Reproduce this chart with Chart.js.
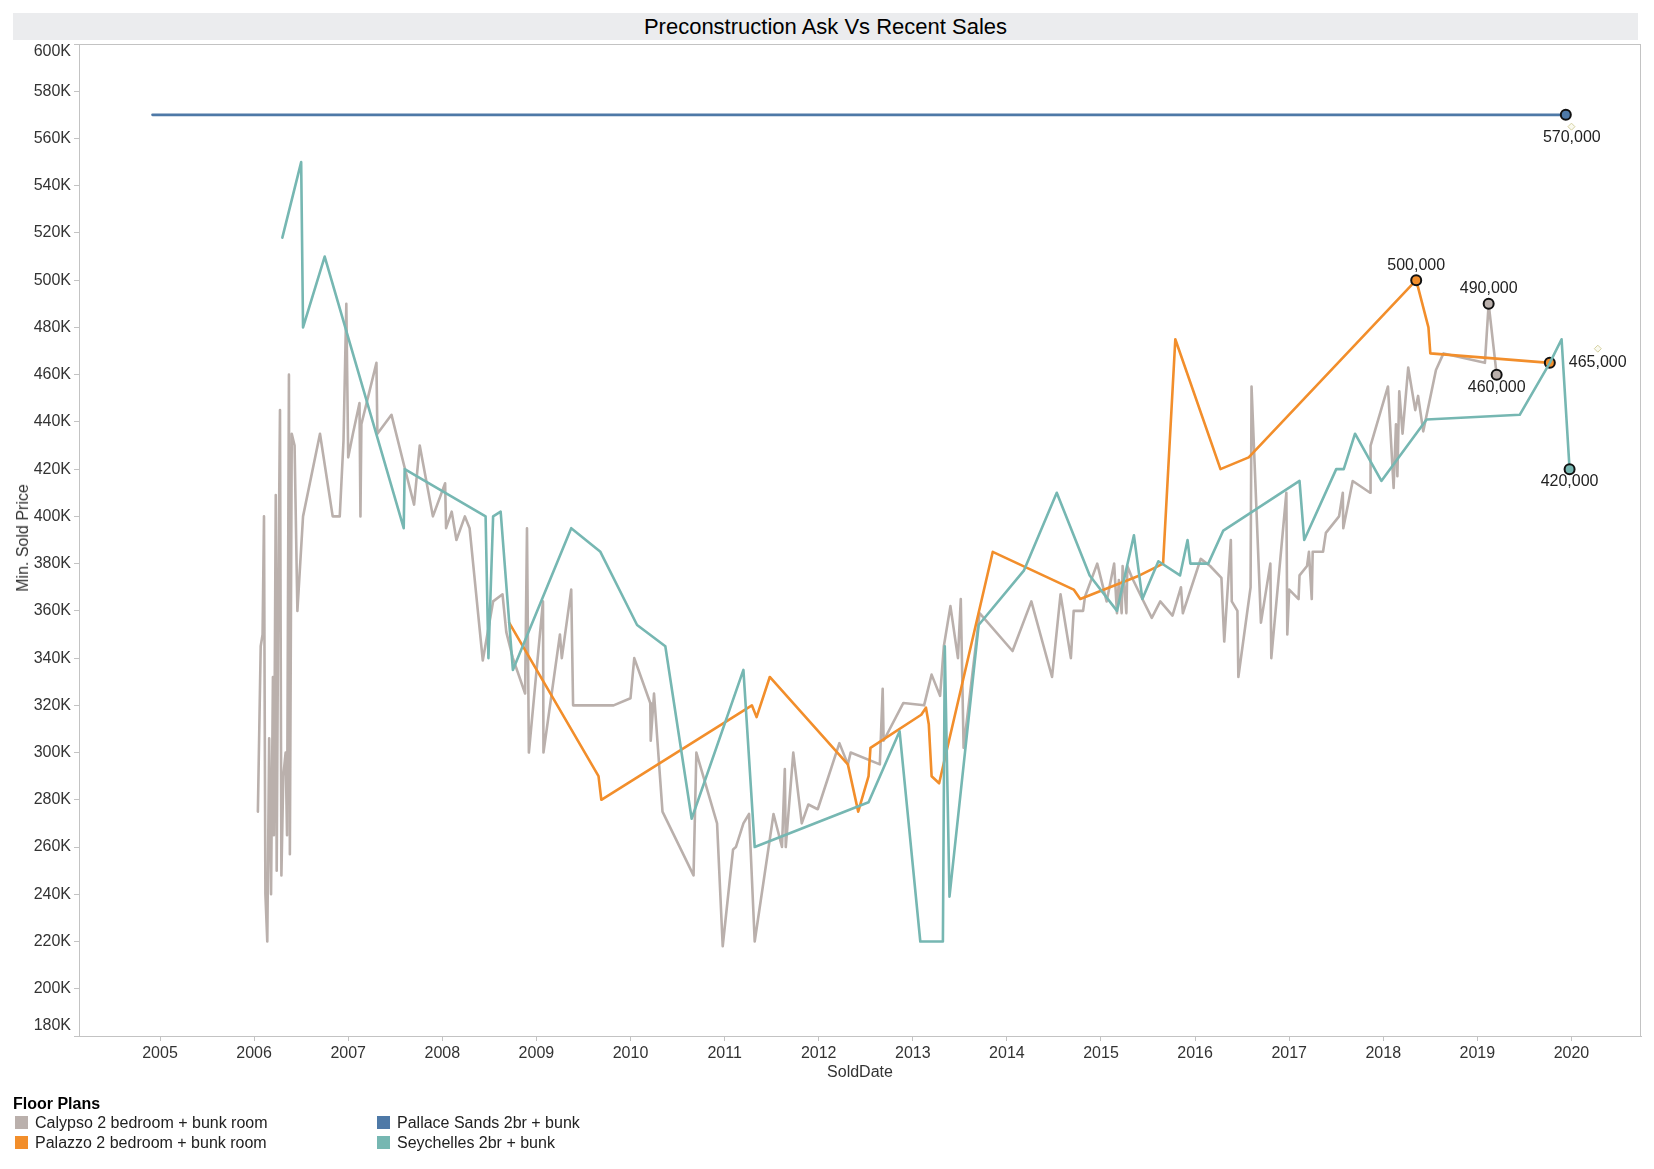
<!DOCTYPE html>
<html>
<head>
<meta charset="utf-8">
<script src="https://cdn.jsdelivr.net/npm/chart.js@4.4.1/dist/chart.umd.min.js"></script>
<style>
html,body{margin:0;padding:0;background:#fff;}
#wrap{position:relative;width:1654px;height:1169px;font-family:"Liberation Sans",Arial,sans-serif;overflow:hidden;}
#c{position:absolute;left:0;top:0;}
#titlebar{position:absolute;left:13px;top:13px;width:1625px;height:27px;background:#ebecee;text-align:center;font-size:22px;line-height:27px;color:#000;}
#ytitle{position:absolute;left:23px;top:538px;transform:translate(-50%,-50%) rotate(-90deg);font-size:16px;white-space:nowrap;color:#333;}
#xtitle{position:absolute;left:860px;top:1072px;transform:translate(-50%,-50%);font-size:16px;white-space:nowrap;color:#333;}
#legend{position:absolute;left:13px;top:1094px;font-size:16px;color:#222;}
#legend .hd{font-weight:bold;color:#000;height:20px;line-height:20px;}
#legend .row{position:absolute;white-space:nowrap;height:20px;line-height:20px;}
#legend .sw{display:inline-block;width:13px;height:13px;vertical-align:-1px;margin-right:7px;margin-left:2px;}
</style>
</head>
<body>
<div id="wrap">
  <canvas id="c" width="1654" height="1169"></canvas>
  <div id="titlebar">Preconstruction Ask Vs Recent Sales</div>
  <div id="ytitle">Min. Sold Price</div>
  <div id="xtitle">SoldDate</div>
  <div id="legend"></div>
</div>
<script>
// ---------------- DATA ----------------
const seriesNames = ["Calypso 2 bedroom + bunk room", "Palazzo 2 bedroom + bunk room", "Pallace Sands 2br + bunk", "Seychelles 2br + bunk"];
const seriesColors = ["#bab0ac", "#f28e2b", "#4e79a7", "#76b7b2"];

const calypsoDates = [2006.04,2006.07,2006.09,2006.105,2006.12,2006.14,2006.16,2006.18,2006.20,2006.21,
  2006.23,2006.24,2006.255,2006.275,2006.29,2006.31,2006.335,2006.35,2006.37,2006.38,
  2006.40,2006.43,2006.46,2006.52,2006.70,2006.835,2006.91,2006.95,2006.98,2007.00,
  2007.05,2007.12,2007.13,2007.14,2007.30,2007.31,2007.46,2007.61,2007.70,2007.76,
  2007.90,2008.03,2008.04,2008.10,2008.15,2008.24,2008.29,2008.43,2008.54,2008.64,
  2008.68,2008.75,2008.88,2008.90,2008.92,2009.07,2009.075,2009.25,2009.27,2009.37,
  2009.39,2009.82,2010.00,2010.04,2010.21,2010.215,2010.25,2010.34,2010.67,2010.70,
  2010.92,2010.98,2011.09,2011.12,2011.20,2011.26,2011.32,2011.52,2011.61,2011.64,
  2011.65,2011.73,2011.82,2011.89,2011.99,2012.22,2012.31,2012.34,2012.65,2012.68,
  2012.69,2012.90,2013.12,2013.20,2013.29,2013.33,2013.40,2013.48,2013.51,2013.54,
  2013.71,2014.06,2014.26,2014.48,2014.57,2014.68,2014.71,2014.81,2014.83,2014.96,
  2015.06,2015.14,2015.17,2015.19,2015.22,2015.23,2015.27,2015.28,2015.33,2015.44,
  2015.54,2015.63,2015.76,2015.85,2015.87,2016.06,2016.16,2016.28,2016.31,2016.38,
  2016.39,2016.45,2016.46,2016.59,2016.60,2016.70,2016.80,2016.81,2016.97,2016.98,
  2017.00,2017.10,2017.11,2017.19,2017.21,2017.24,2017.25,2017.36,2017.39,2017.53,
  2017.57,2017.575,2017.675,2017.86,2017.865,2018.05,2018.11,2018.135,2018.15,2018.17,
  2018.205,2018.265,2018.34,2018.37,2018.425,2018.56,2018.64,2019.08,2019.12,2019.205];
const calypsoPrices = [275000,345000,350000,400000,240000,220000,306000,240000,332000,265000,
  409000,250000,357000,445000,248000,290000,300000,265000,460000,257000,
  435000,430000,360000,400000,435000,400000,400000,432000,490000,425000,
  435000,448000,400000,439000,465000,435000,443000,419000,405000,430000,
  400000,414000,395000,402000,390000,400000,395000,339000,364000,367000,
  351000,340000,325000,395000,300000,364000,300000,350000,340000,369000,
  320000,320000,323000,340000,321000,305000,325000,275000,248000,300000,
  270000,218000,259000,260000,270000,274000,220000,274000,260000,293000,
  260000,300000,270000,278000,276000,304000,295000,300000,295000,327000,
  305000,321000,320000,333000,324000,345000,362000,340000,365000,302000,
  359000,343000,364000,332000,367000,340000,360000,360000,366000,380000,
  364000,380000,359000,373000,359000,379000,359000,379000,374000,365000,
  357000,364000,358000,370000,359000,382000,379000,374000,347000,390000,
  364000,360000,332000,370000,455000,355000,380000,340000,410000,350000,
  369000,365000,375000,379000,385000,365000,385000,385000,393000,400000,
  410000,395000,415000,410000,430000,455000,412000,439000,417000,453000,
  435000,463000,445000,451000,436000,462000,469000,465000,490000,460000];

const palazzoDates = [2008.71,2009.66,2009.69,2011.29,2011.34,2011.48,2012.31,2012.42,2012.53,2012.55,
  2013.09,2013.14,2013.17,2013.20,2013.28,2013.85,2014.71,2014.78,2015.41,2015.66,
  2015.79,2016.27,2016.57,2018.35,2018.48,2018.50,2019.77];
const palazzoPrices = [355000,290000,280000,320000,315000,332000,295000,275000,290000,302000,
  316000,319000,312000,290000,287000,385000,369000,365000,375000,380000,
  475000,420000,425000,500000,480000,469000,465000];

const pallaceDates = [2004.92, 2019.94];
const pallacePrices = [570000, 570000];

const seychellesDates = [2006.30,2006.50,2006.52,2006.75,2007.59,2007.60,2008.46,2008.49,2008.54,2008.62,
  2008.75,2009.37,2009.68,2010.07,2010.37,2010.65,2011.20,2011.32,2012.53,2012.86,
  2013.08,2013.32,2013.34,2013.39,2013.70,2014.18,2014.53,2014.88,2015.17,2015.35,
  2015.44,2015.61,2015.84,2015.92,2015.95,2016.14,2016.30,2017.11,2017.16,2017.50,
  2017.58,2017.70,2017.98,2018.46,2019.45,2019.77,2019.895,2019.98];
const seychellesPrices = [518000,550000,480000,510000,395000,420000,400000,340000,400000,402000,
  335000,395000,385000,354000,345000,272000,335000,260000,279000,309000,
  220000,220000,345000,239000,354000,377000,410000,375000,360000,392000,
  365000,381000,375000,390000,380000,380000,394000,415000,390000,420000,
  420000,435000,415000,441000,443000,465000,475000,420000];

// labelled points (dates of the marked points per series)
const calypsoMarked = [2019.12, 2019.205];
const palazzoMarked = [2018.35, 2019.77];
const pallaceMarked = [2019.94];
const seychellesMarked = [2019.98];

// small annotation anchors
const anchorDates = [2020.00, 2020.28];
const anchorPrices = [565000, 471000];

const yearTicks = [2005,2006,2007,2008,2009,2010,2011,2012,2013,2014,2015,2016,2017,2018,2019,2020];
const priceTicks = [180000,200000,220000,240000,260000,280000,300000,320000,340000,360000,380000,400000,420000,440000,460000,480000,500000,520000,540000,560000,580000,600000];

// ---------------- STYLE / PLACEMENT ----------------
const FONT = '"Liberation Sans", Arial, sans-serif';
const TICK_FONT = '16px ' + FONT;
const labelPlace = {
  "2019.12": {dx:0, dy:-15, align:'center'},
  "2019.205": {dx:0, dy:13, align:'center'},
  "2018.35": {dx:0, dy:-15, align:'center'},
  "2019.77": {dx:19, dy:0, align:'left'},
  "2019.94": {dx:6, dy:23, align:'center'},
  "2019.98": {dx:0, dy:12, align:'center'}
};

function pts(d, p){ return d.map((x,i)=>({x:x, y:p[i]})); }
function fmtK(v){ return (v / 1000) + 'K'; }

function mkSet(name, color, d, p, marked, order){
  return {
    label: name, data: pts(d,p), borderColor: color, backgroundColor: color,
    borderWidth: 2.6, tension: 0, borderJoinStyle:'round', borderCapStyle:'round',
    pointRadius: c => (c.raw && marked.includes(c.raw.x)) ? 5 : 0,
    pointHoverRadius: 0,
    pointBorderColor: '#111', pointBorderWidth: 2, pointBackgroundColor: color,
    marked: marked, order: order
  };
}

const datasets = [
  {label:'anchors', data: pts(anchorDates, anchorPrices), showLine:false, pointStyle:'rectRot',
   pointRadius:3.5, pointBorderWidth:1, pointBorderColor:'#d4cf9f', pointBackgroundColor:'#fafaf0', order:0, marked:[]},
  mkSet(seriesNames[3], seriesColors[3], seychellesDates, seychellesPrices, seychellesMarked, 1),
  mkSet(seriesNames[2], seriesColors[2], pallaceDates, pallacePrices, pallaceMarked, 2),
  mkSet(seriesNames[1], seriesColors[1], palazzoDates, palazzoPrices, palazzoMarked, 3),
  mkSet(seriesNames[0], seriesColors[0], calypsoDates, calypsoPrices, calypsoMarked, 4)
];

const framePlugin = {
  id:'frame',
  beforeDatasetsDraw(chart){
    const a = chart.chartArea, g = chart.ctx;
    g.save(); g.strokeStyle = '#c3c3c3'; g.lineWidth = 1;
    g.strokeRect(Math.round(a.left)+0.5, Math.round(a.top)+0.5, Math.round(a.right-a.left)-1, Math.round(a.bottom-a.top));
    g.restore();
  }
};

// end labels of the value axis are nudged inside the plot, as in the original
const edgeTickPlugin = {
  id:'edgeTicks',
  afterDraw(chart){
    const y = chart.scales.y, a = chart.chartArea, g = chart.ctx;
    g.save(); g.font = TICK_FONT; g.fillStyle = '#333'; g.textAlign = 'right'; g.textBaseline = 'middle';
    g.fillText(fmtK(y.max), a.left - 8, a.top + 8);
    g.fillText(fmtK(y.min), a.left - 8, a.bottom - 10);
    g.restore();
  }
};

const labelPlugin = {
  id:'pointLabels',
  afterDatasetsDraw(chart){
    const g = chart.ctx;
    g.save();
    g.font = '16px ' + FONT; g.fillStyle = '#222'; g.textBaseline = 'middle';
    chart.data.datasets.forEach((ds, di) => {
      const meta = chart.getDatasetMeta(di);
      ds.data.forEach((pt, i) => {
        if (!ds.marked.includes(pt.x)) return;
        const el = meta.data[i];
        const pl = labelPlace[String(pt.x)] || {dx:0, dy:-14, align:'center'};
        g.textAlign = pl.align;
        g.fillText(pt.y.toLocaleString('en-US'), el.x + pl.dx, el.y + pl.dy);
      });
    });
    g.restore();
  }
};

new Chart(document.getElementById('c'), {
  type: 'line',
  data: { datasets: datasets },
  options: {
    responsive: false, animation: false, devicePixelRatio: 1,
    layout: { padding: { left: 29, right: 13, top: 44, bottom: 103 } },
    plugins: { legend: { display: false }, title: { display: false }, tooltip: { enabled: false } },
    events: [],
    scales: {
      x: {
        type: 'linear', min: 2004.139, max: 2020.739,
        afterBuildTicks: s => { s.ticks = yearTicks.map(v => ({ value: v })); },
        afterFit: s => { s.height = 30; },
        ticks: { autoSkip: false, maxRotation: 0, padding: 3, color: '#333', font: { family: FONT, size: 16 }, callback: v => String(v) },
        grid: { display: true, drawOnChartArea: false, drawTicks: true, tickLength: 5, color: '#c3c3c3' },
        border: { display: true, color: '#c3c3c3' }
      },
      y: {
        type: 'linear', min: 180000, max: 600000,
        afterBuildTicks: s => { s.ticks = priceTicks.map(v => ({ value: v })); },
        afterFit: s => { s.width = 50; },
        ticks: { autoSkip: false, padding: 3, color: '#333', font: { family: FONT, size: 16 },
                 callback: v => (v === 180000 || v === 600000) ? '' : fmtK(v) },
        grid: { display: true, drawOnChartArea: false, drawTicks: true, tickLength: 5, color: '#c3c3c3' },
        border: { display: true, color: '#c3c3c3' }
      }
    }
  },
  plugins: [framePlugin, labelPlugin, edgeTickPlugin]
});

// legend (HTML)
const lg = document.getElementById('legend');
const hd = document.createElement('div'); hd.className = 'hd'; hd.textContent = 'Floor Plans'; lg.appendChild(hd);
const legendPos = [[0,19],[0,39],[362,19],[362,39]];
seriesNames.forEach((n, i) => {
  const r = document.createElement('div'); r.className = 'row';
  r.style.left = legendPos[i][0] + 'px'; r.style.top = legendPos[i][1] + 'px';
  const sw = document.createElement('span'); sw.className = 'sw'; sw.style.background = seriesColors[i];
  r.appendChild(sw); r.appendChild(document.createTextNode(n));
  lg.appendChild(r);
});
</script>
</body>
</html>
